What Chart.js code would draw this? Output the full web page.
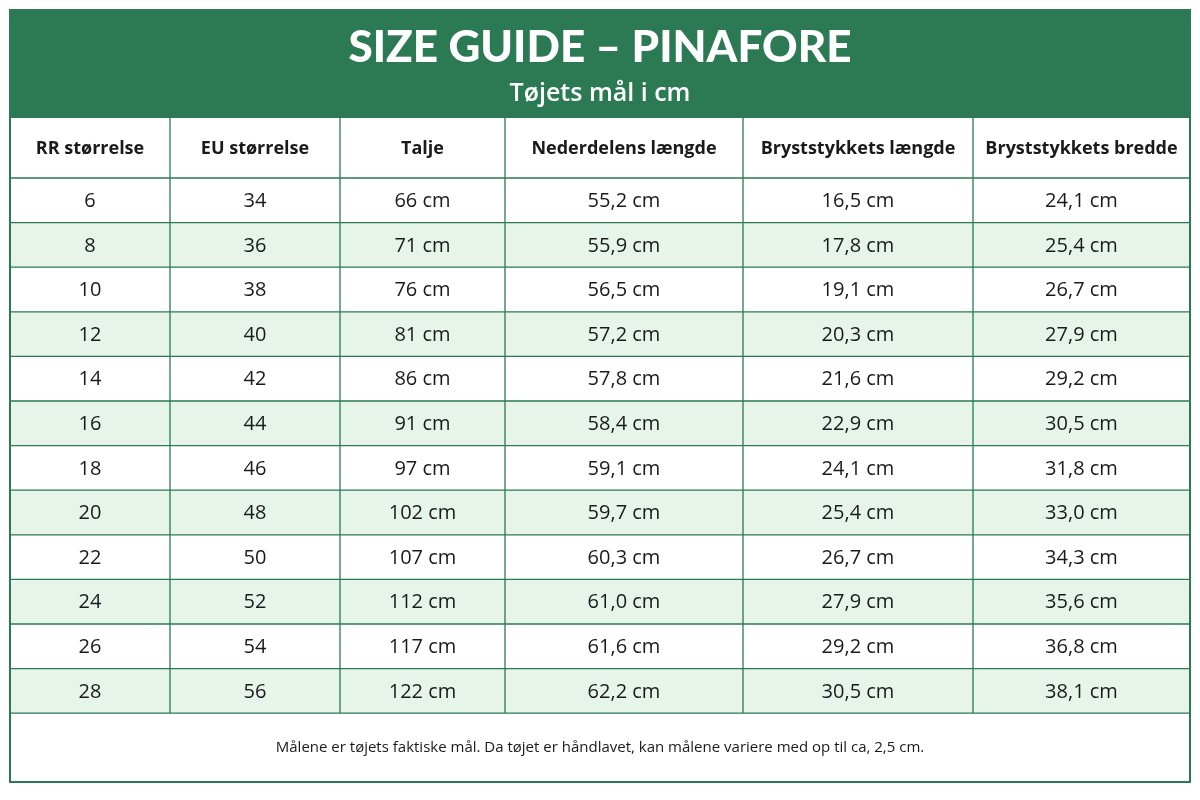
<!DOCTYPE html>
<html><head><meta charset="utf-8">
<script src="https://cdn.jsdelivr.net/npm/chart.js@4"></script>
<style>html,body{margin:0;padding:0;background:#fff}#w{width:1200px;height:800px}</style>
</head><body><div id="w"><canvas id="c"></canvas></div>
<script>
const title = "SIZE GUIDE – PINAFORE";
const subtitle = "Tøjets mål i cm";
const headers = ["RR størrelse","EU størrelse","Talje","Nederdelens længde","Bryststykkets længde","Bryststykkets bredde"];
const rrSizes = ["6","8","10","12","14","16","18","20","22","24","26","28"];
const euSizes = ["34","36","38","40","42","44","46","48","50","52","54","56"];
const waist = [66,71,76,81,86,91,97,102,107,112,117,122];
const skirtLength = [55.2,55.9,56.5,57.2,57.8,58.4,59.1,59.7,60.3,61.0,61.6,62.2];
const bodiceLength = [16.5,17.8,19.1,20.3,21.6,22.9,24.1,25.4,26.7,27.9,29.2,30.5];
const bodiceWidth = [24.1,25.4,26.7,27.9,29.2,30.5,31.8,33.0,34.3,35.6,36.8,38.1];
const footnote = "Målene er tøjets faktiske mål. Da tøjet er håndlavet, kan målene variere med op til ca, 2,5 cm.";

const fmt = v => v.toFixed(1).replace('.', ',') + ' cm';
const colEdges = [10,170,340,505,743,973,1190];
const GREEN = '#2c7a53', LIGHT = '#e6f4ea', TEXT = '#1a1a1a';

const tablePlugin = {
  id: 'table',
  afterDraw(chart) {
    const ctx = chart.ctx, xs = chart.scales.x, ys = chart.scales.y;
    const X = v => xs.getPixelForValue(v), Y = v => ys.getPixelForValue(v);
    const rows = rrSizes.map((r,i)=>[r, euSizes[i], waist[i]+' cm', fmt(skirtLength[i]), fmt(bodiceLength[i]), fmt(bodiceWidth[i])]);
    const top=10, bannerB=118, headB=178, rowH=44.6, bodyB=headB+rowH*rows.length, bottom=782;
    ctx.save();
    // banner
    ctx.fillStyle = GREEN;
    ctx.fillRect(X(10), Y(top), X(1190)-X(10), Y(bannerB)-Y(top));
    ctx.fillStyle = '#fff'; ctx.textAlign='center'; ctx.textBaseline='middle';
    ctx.font = '900 44px Lato'; ctx.fillText(title, X(600), Y(48));
    ctx.font = '600 25px "Open Sans"'; ctx.fillText(subtitle, X(600), Y(94));
    // alternating rows
    rows.forEach((r,i)=>{ if(i%2===1){ ctx.fillStyle=LIGHT; ctx.fillRect(X(10),Y(headB+rowH*i),X(1190)-X(10),Y(rowH)-Y(0)); } });
    // grid
    ctx.strokeStyle = GREEN; ctx.lineWidth=1.3;
    ctx.beginPath();
    for (let k=0;k<=rows.length;k++){ const y=headB+rowH*k; ctx.moveTo(X(10),Y(y)); ctx.lineTo(X(1190),Y(y)); }
    colEdges.slice(1,-1).forEach(x=>{ ctx.moveTo(X(x),Y(bannerB)); ctx.lineTo(X(x),Y(bodyB)); });
    ctx.stroke();
    ctx.lineWidth=2; ctx.strokeRect(X(10),Y(top),X(1190)-X(10),Y(bottom)-Y(top));
    // header text
    ctx.fillStyle=TEXT;
    ctx.font='700 18px "Open Sans"';
    headers.forEach((h,c)=>ctx.fillText(h, X((colEdges[c]+colEdges[c+1])/2), Y(149)));
    ctx.font='20px "Open Sans"';
    rows.forEach((r,i)=>r.forEach((t,c)=>ctx.fillText(t, X((colEdges[c]+colEdges[c+1])/2), Y(headB+rowH*i+rowH/2+1))));
    ctx.font='15px "Open Sans"';
    ctx.fillText(footnote, X(600), Y(748));
    ctx.restore();
  }
};

new Chart(document.getElementById('c'), {
  type: 'scatter',
  data: { datasets: [{ data: [] }] },
  options: {
    responsive:true, maintainAspectRatio:false, animation:false,
    layout:{padding:0},
    plugins:{legend:{display:false},tooltip:{enabled:false}},
    scales:{
      x:{type:'linear',min:0,max:1200,display:false},
      y:{type:'linear',min:0,max:800,reverse:true,display:false}
    }
  },
  plugins:[tablePlugin]
});
</script></body></html>
